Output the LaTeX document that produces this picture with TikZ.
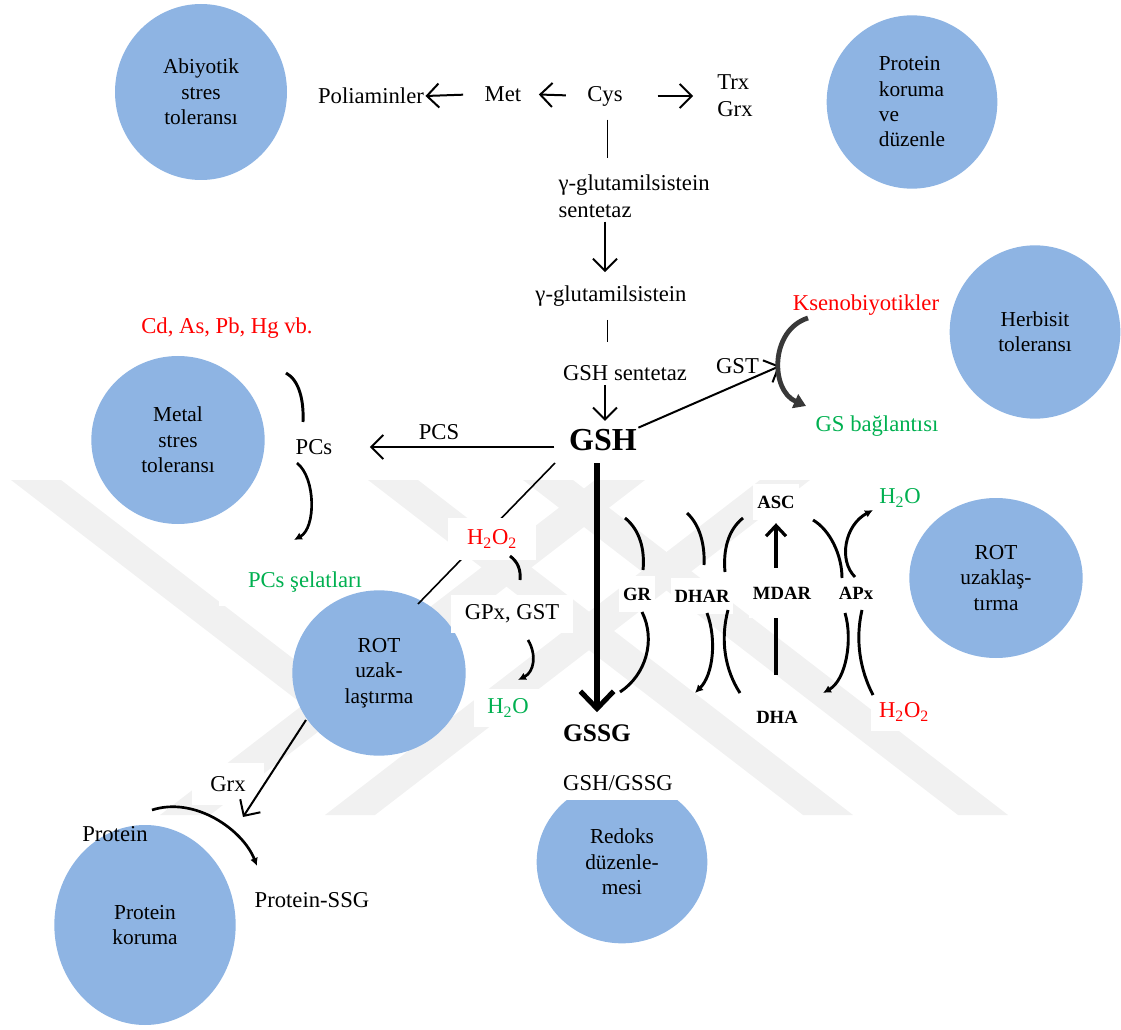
\documentclass[tikz,border=0pt]{standalone}
\usepackage{fontspec}
\setmainfont{Liberation Serif}
\usetikzlibrary{arrows.meta,shapes.geometric,calc}
\definecolor{circ}{HTML}{8EB4E3}
\definecolor{rd}{HTML}{FF0000}
\definecolor{gn}{HTML}{00B050}
\definecolor{wm}{HTML}{F1F1F1}
\begin{document}
\begin{tikzpicture}[x=0.75pt,y=-0.75pt,
 bubble/.style={ellipse,fill=circ,inner sep=0pt,align=center,font=\fontsize{16}{19}\selectfont},
 lbl/.style={font=\fontsize{17}{20}\selectfont,inner sep=1pt},
 wlbl/.style={lbl,fill=white,inner xsep=10pt,inner ysep=7pt},
 enz/.style={font=\bfseries\fontsize{14}{16}\selectfont,fill=white,inner xsep=3pt,inner ysep=9pt},
 arr/.style={line width=1.5pt,-{Straight Barb[length=9pt,width=18pt]}},
 brk/.style={line width=2.2pt},
 carr/.style={line width=2pt,-{Latex[length=6pt,width=6pt]}},
]
\useasboundingbox (0,0) rectangle (1121,1030);
% watermark
\fill[wm] (11,480) -- (61,480) -- (373,720) -- (323,720) -- cycle;
\fill[wm] (368,480) -- (418,480) -- (853,815) -- (803,815) -- cycle;
\fill[wm] (523,480) -- (573,480) -- (1008,815) -- (958,815) -- cycle;
\fill[wm] (160,815) -- (210,815) -- (645,480) -- (595,480) -- cycle;
\fill[wm] (325,815) -- (375,815) -- (810,480) -- (760,480) -- cycle;

% labels with white boxes that lie under circles
\node[wlbl,text=gn,inner xsep=22pt,inner ysep=10pt] (pcsc) at (305,582) {PCs şelatları};
\node[wlbl,inner xsep=14pt,inner ysep=10pt] (grx) at (228,784) {Grx};

% circles
\node[bubble,minimum width=129pt,minimum height=132pt] (abi) at (201,92) {Abiyotik\\stres\\toleransı};
\node[bubble,minimum width=128pt,minimum height=130pt,align=left] (pkd) at (912,102) {Protein\\koruma\\ve\\düzenle};
\node[bubble,minimum width=128pt,minimum height=130pt] (her) at (1035,332) {Herbisit\\toleransı};
\node[bubble,minimum width=130pt,minimum height=126pt] (met) at (178,440) {Metal\\stres\\toleransı};
\node[bubble,minimum width=130pt,minimum height=124pt] (rotl) at (379,673) {ROT\\uzak-\\laştırma};
\node[bubble,minimum width=130pt,minimum height=120pt] (rotr) at (996,578) {ROT\\uzaklaş-\\tırma};
\node[bubble,minimum width=128pt,minimum height=122pt] (red) at (622,862) {Redoks\\düzenle-\\mesi};
\node[bubble,minimum width=136pt,minimum height=150pt] (pk) at (145,925) {Protein\\koruma};

% top chain
\node[lbl] (poli) at (371,96) {Poliaminler};
\node[lbl] (metn) at (503,94) {Met};
\node[lbl] (cys) at (605,96) {Cys};
\node[lbl,align=left] (trx) at (735,96) {Trx\\Grx};
\draw[arr,shorten <=15pt] (metn.west) -- (poli.east);
\draw[arr,shorten <=15pt,shorten >=12pt] (cys.west) -- (metn.east);
\draw[arr,shorten <=25pt,shorten >=17pt] (cys.east) -- (trx.west);

\node[lbl,align=left,anchor=west] (gcs) at (557,196) {γ-glutamilsistein\\sentetaz};
\node[lbl] (gc) at (611,296) {γ-glutamilsistein};
\node[lbl] (gshs) at (625,373) {GSH sentetaz};
\node[font=\bfseries\fontsize{24}{28}\selectfont,inner sep=1pt] (gsh) at (603,440) {GSH};
\draw[line width=1.2pt,shorten <=9pt,shorten >=11pt] ([xshift=2pt]cys.south) -- ([xshift=2pt]cys.south |- gcs.north);
\draw[arr,shorten <=2pt,shorten >=9pt] (cys.south |- gcs.south) -- (cys.south |- gc.north);
\draw[line width=1.2pt,shorten <=9pt,shorten >=16pt] ([xshift=2pt]cys.south |- gc.south) -- ([xshift=2pt]cys.south |- gshs.north);
\draw[arr,shorten <=2pt,shorten >=5pt] (cys.south |- gshs.south) -- (cys.south |- gsh.north);

% PCS branch
\node[lbl,text=rd] (cd) at (227,328) {Cd, As, Pb, Hg vb.};
\node[lbl] (pcs) at (314,447) {PCs};
\draw[arr,shorten <=10pt,shorten >=27pt] (gsh.west |- pcs) -- node[lbl,above=4pt,pos=0.55] (pcsl) {PCS} (pcs.east);
\coordinate (b1a) at (286,373); \coordinate (b1b) at (303,422);
\draw[brk] (b1a) .. controls (299,380) and (304,400) .. (b1b);
\coordinate (b2a) at (297,463); \coordinate (b2b) at (294,540);
\draw[carr] (b2a) .. controls (316,478) and (316,528) .. (b2b);

% GST branch
\node[lbl,text=rd] (kse) at (866,305) {Ksenobiyotikler};
\node[lbl,text=gn] (gsb) at (877,426) {GS bağlantısı};
\coordinate (gstend) at (780,366);
\draw[arr] (gsh.north east) -- node[lbl,above=6pt,pos=0.7] (gstl) {GST} (gstend);
\coordinate (ka) at (808,318); \coordinate (kb) at (806,406);
\draw[line width=3.6pt,black!78,-{Triangle[length=9pt,width=11pt]}] (ka) .. controls (770,330) and (770,390) .. (kb);

% peroxidase branch
\coordinate (hl1) at (555,463); \coordinate (hl2) at (418,604);
\draw[line width=1.2pt] (hl1) -- (hl2);
\node[wlbl,text=rd,inner xsep=14pt,inner ysep=9pt] (h2o2l) at (492,539) {H\textsubscript{2}O\textsubscript{2}};
\coordinate (s1a) at (510,556); \coordinate (s1b) at (520,580);
\draw[brk] (s1a) .. controls (518,562) and (521,570) .. (s1b);
\node[wlbl] (gpx) at (512,614) {GPx, GST};
\coordinate (s2a) at (528,640); \coordinate (s2b) at (518,680);
\draw[carr] (s2a) .. controls (537,655) and (534,672) .. (s2b);
\node[wlbl,text=gn] (h2ol) at (508,708) {H\textsubscript{2}O};

% Grx / protein
\coordinate (gx1) at (306,720); \coordinate (gx2) at (243,817);
\draw[arr] (gx1) -- (gx2);
\node[lbl] (prot) at (115,834) {Protein};
\node[lbl] (pssg) at (312,900) {Protein-SSG};
\coordinate (pa) at (152,810); \coordinate (pb) at (257,866);
\draw[line width=2pt,-{Latex[length=6pt,width=6pt]}] (pa) .. controls (195,796) and (243,830) .. (pb);

% GSSG
\node[font=\bfseries\fontsize{19}{22}\selectfont,fill=white,inner xsep=8pt,inner ysep=6pt] (gssg) at (597,733) {GSSG};
\node[wlbl] (ratio) at (618,783) {GSH/GSSG};
\draw[line width=3.8pt,-{Straight Barb[length=13pt,width=25pt]},shorten <=8pt,shorten >=3pt] (gsh.south -| gssg) -- (gssg.north);

% ascorbate cycle
\node[enz] (asc) at (776,502) {ASC};
\node[enz] (dha) at (777,717) {DHA};
\draw[line width=2.4pt,-{Straight Barb[length=8pt,width=15pt]},shorten <=18pt,shorten >=2pt] (dha.north -| asc) -- (asc.south);
\node[enz] (grn) at (637,594) {GR};
\node[enz] (dhar) at (702,596) {DHAR};
\node[enz,inner ysep=14pt] (mdar) at (782,593) {MDAR};
\node[enz] (apx) at (856,593) {APx};
\node[wlbl,text=gn,inner xsep=6pt] (h2or) at (900,498) {H\textsubscript{2}O};
\node[wlbl,text=rd,inner xsep=6pt] (h2o2r) at (904,712) {H\textsubscript{2}O\textsubscript{2}};

% GR
\draw[brk] (625,518) .. controls (640,530) and (645,550) .. (643,570);
\draw[brk] (642,612) .. controls (656,640) and (646,675) .. (620,692);
% DHAR
\draw[brk] (687,513) .. controls (700,525) and (705,545) .. (704,565);
\draw[brk] (743,518) .. controls (728,530) and (723,550) .. (725,572);
\draw[carr,line width=2.2pt] (707,613) .. controls (717,640) and (713,675) .. (695,693);
\draw[brk] (728,610) .. controls (720,640) and (725,670) .. (740,693);
% APx
\draw[brk] (813,520) .. controls (830,530) and (842,555) .. (842,578);
\draw[carr,line width=2.2pt] (855,577) .. controls (838,560) and (845,525) .. (873,510);
\draw[carr,line width=2.2pt] (845,613) .. controls (853,640) and (846,680) .. (823,693);
\draw[brk] (862,610) .. controls (855,640) and (860,670) .. (873,695);
\end{tikzpicture}
\end{document}
